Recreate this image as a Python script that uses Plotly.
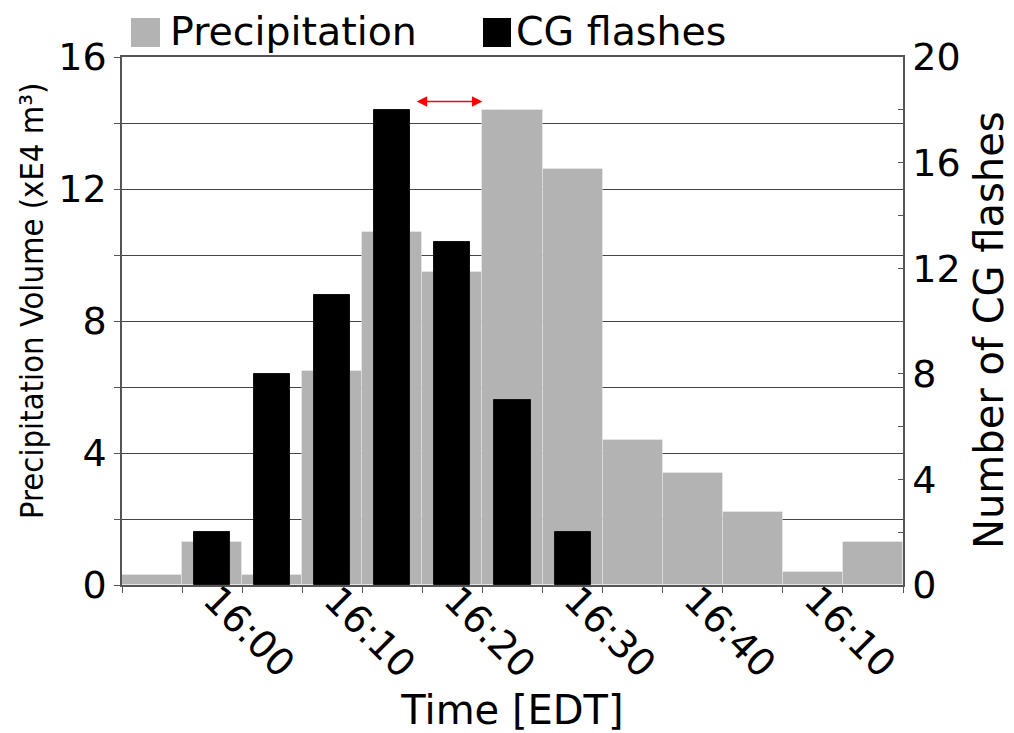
import plotly.graph_objects as go

# ---- data ----
bin_start_min = [0, 5, 10, 15, 20, 25, 30, 35, 40, 45, 50, 55, 60]  # minutes after 15:50
precip = [0.3, 1.3, 0.3, 6.5, 10.7, 9.5, 14.4, 12.6, 4.4, 3.4, 2.2, 0.4, 1.3]
flash_bins = [5, 10, 15, 20, 25, 30, 35]
flashes = [2, 8, 11, 18, 13, 7, 2]
tick_pos = [10, 20, 30, 40, 50, 60]
tick_text = ["16:00", "16:10", "16:20", "16:30", "16:40", "16:10"]
arrow_span = [24.4, 30.0]
arrow_level = 14.65

FONT = "DejaVu Sans"
FS = 38
GRID = "#444444"
AX = "#555555"

px_x = [s + 2.5 for s in bin_start_min]
fl_x = [s + 2.5 for s in flash_bins]

fig = go.Figure()
fig.add_trace(go.Bar(
    x=px_x, y=precip, width=5, name="Precipitation",
    marker=dict(color="#b3b3b3", line=dict(color="rgba(255,255,255,0.3)", width=1)),
    showlegend=False, yaxis="y"))
fig.add_trace(go.Bar(
    x=fl_x, y=flashes, width=3, name="CG flashes",
    marker=dict(color="#000000", line=dict(color="#111111", width=1)),
    showlegend=False, yaxis="y2"))

fig.update_layout(
    width=1014, height=733,
    margin=dict(l=122, r=111, t=57, b=148, autoexpand=False),
    paper_bgcolor="white", plot_bgcolor="white",
    barmode="overlay", bargap=0,
    font=dict(family=FONT, size=FS, color="black"),
    xaxis=dict(range=[0, 65], showticklabels=False, tickmode="array",
               tickvals=list(range(0, 66, 5)), ticks="outside", ticklen=6,
               tickcolor=AX, showgrid=False, zeroline=False, automargin=False,
               showline=True, linecolor=AX, linewidth=1.5, mirror=True,
               title=dict(text="Time [EDT]", standoff=114,
                          font=dict(family=FONT, size=40))),
    yaxis=dict(range=[0, 16], tickvals=[0, 4, 8, 12, 16], ticks="outside",
               ticklen=6, tickcolor=AX, showgrid=True, gridcolor=GRID,
               gridwidth=1, zeroline=False, showline=True, linecolor=AX,
               linewidth=1.5, automargin=False,
               minor=dict(dtick=2, ticks="outside", ticklen=6, tickcolor=AX,
                          showgrid=True, gridcolor=GRID, gridwidth=1),
               tickfont=dict(family=FONT, size=FS)),
    yaxis2=dict(range=[0, 20], overlaying="y", side="right", anchor="x",
                tickvals=[0, 4, 8, 12, 16, 20], ticks="inside", ticklen=5,
                tickcolor=AX, showgrid=False, zeroline=False, showline=True,
                linecolor=AX, linewidth=1.5, automargin=False,
                minor=dict(dtick=2, ticks="inside", ticklen=5, tickcolor=AX),
                tickfont=dict(family=FONT, size=FS)),
    yaxis3=dict(range=[0, 20], overlaying="y", side="right", anchor="x",
                dtick=2, ticks="outside", ticklen=5, tickcolor=AX,
                showticklabels=False, showgrid=False, zeroline=False,
                showline=False, automargin=False),
)

# y-axis titles
fig.add_annotation(xref="paper", yref="paper", x=(32 - 122) / 781.0,
                   y=(585 - 301) / 528.0, text="Precipitation Volume (xE4 m³)",
                   textangle=-90, showarrow=False, xanchor="center",
                   yanchor="middle",
                   font=dict(family="DejaVu Sans Condensed, DejaVu Sans", size=32.5))
fig.add_annotation(xref="paper", yref="paper", x=(989 - 122) / 781.0,
                   y=(585 - 330) / 528.0, text="Number of CG flashes",
                   textangle=-90, showarrow=False, xanchor="center",
                   yanchor="middle", font=dict(family=FONT, size=40))

# rotated time labels centred on their ticks
for xv, t in zip(tick_pos, tick_text):
    fig.add_annotation(x=xv + 0.6, xref="x", y=-0.0895, yref="paper",
                       text=t, textangle=45, showarrow=False,
                       xanchor="center", yanchor="middle",
                       font=dict(family=FONT, size=FS))

# red double arrow
fig.add_annotation(x=arrow_span[1], y=arrow_level, ax=arrow_span[0], ay=arrow_level,
                   xref="x", yref="y", axref="x", ayref="y", text="",
                   showarrow=True, arrowside="end+start", arrowhead=2,
                   arrowsize=1.4, arrowwidth=1.5, arrowcolor="red",
                   standoff=0, startstandoff=0)

# legend (top)
def px2xp(p):
    return (p - 122) / 781.0

def px2yp(p):
    return (585 - p) / 528.0

fig.add_shape(type="rect", xref="paper", yref="paper",
              x0=px2xp(131), x1=px2xp(160), y0=px2yp(47), y1=px2yp(18),
              fillcolor="#b3b3b3", line=dict(width=0))
fig.add_annotation(xref="paper", yref="paper", x=px2xp(168), y=px2yp(31),
                   text="Precipitation", showarrow=False, xanchor="left",
                   yanchor="middle", font=dict(family=FONT, size=39.5))
fig.add_shape(type="rect", xref="paper", yref="paper",
              x0=px2xp(483), x1=px2xp(511), y0=px2yp(47), y1=px2yp(18),
              fillcolor="#000000", line=dict(width=0))
fig.add_annotation(xref="paper", yref="paper", x=px2xp(514), y=px2yp(31),
                   text="CG flashes", showarrow=False, xanchor="left",
                   yanchor="middle", font=dict(family=FONT, size=39.5))

fig.write_html("out.html")
